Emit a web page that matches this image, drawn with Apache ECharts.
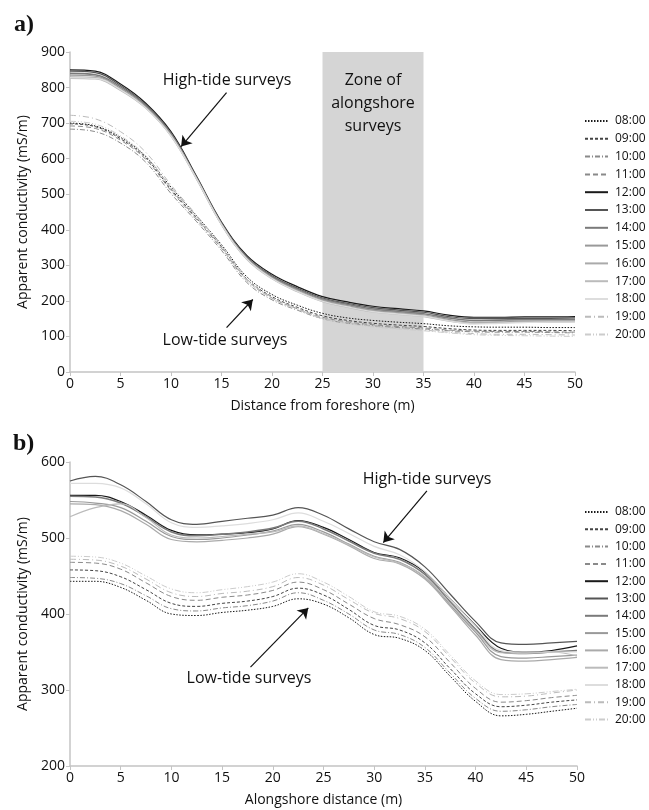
<!DOCTYPE html>
<html>
<head>
<meta charset="utf-8">
<script src="https://cdn.jsdelivr.net/npm/echarts@6/dist/echarts.min.js"></script>
<style>
html, body { margin: 0; padding: 0; background: #fff; }
#main { width: 649px; height: 810px; }
</style>
</head>
<body>
<div id="main"></div>
<script>
// times of the surveys
var times = ['08:00', '09:00', '10:00', '11:00', '12:00', '13:00', '14:00', '15:00', '16:00', '17:00', '18:00', '19:00', '20:00'];

// a) cross-shore profiles, distance from foreshore (m)
var distA = [0, 2.5, 5, 7.5, 10, 12.5, 15, 17.5, 20, 22.5, 25, 27.5, 30, 32.5, 35, 37.5, 40, 42.5, 45, 47.5, 50];
var a08 = [700, 692, 660, 606, 520, 440, 358, 268, 218, 188, 165, 152, 145, 140, 136, 130, 127, 126, 126, 125, 125];
var a09 = [698, 690, 656, 602, 514, 434, 352, 262, 212, 182, 158, 145, 137, 132, 128, 122, 118, 117, 117, 117, 116];
var a10 = [683, 676, 644, 590, 502, 424, 342, 252, 203, 174, 150, 137, 130, 125, 121, 116, 113, 112, 112, 111, 110];
var a11 = [692, 685, 652, 598, 510, 430, 348, 258, 208, 178, 154, 141, 133, 128, 124, 118, 115, 114, 114, 113, 112];
var a12 = [850, 846, 810, 756, 676, 552, 422, 328, 275, 240, 212, 197, 185, 178, 172, 160, 154, 154, 155, 155, 156];
var a13 = [846, 842, 806, 752, 672, 548, 418, 324, 271, 236, 208, 193, 181, 174, 168, 156, 150, 150, 151, 151, 152];
var a14 = [840, 836, 802, 750, 670, 548, 418, 322, 268, 233, 205, 190, 177, 170, 164, 152, 145, 146, 147, 147, 148];
var a15 = [835, 832, 798, 746, 667, 546, 416, 320, 266, 231, 203, 187, 174, 167, 161, 148, 140, 141, 143, 143, 144];
var a16 = [830, 828, 795, 744, 665, 545, 415, 318, 264, 228, 200, 184, 171, 164, 158, 145, 137, 139, 141, 141, 142];
var a17 = [826, 824, 792, 742, 663, 544, 414, 317, 262, 226, 198, 182, 169, 162, 156, 143, 136, 138, 140, 140, 141];
var a18 = [828, 826, 794, 743, 664, 545, 415, 318, 263, 227, 199, 183, 170, 163, 157, 144, 135, 137, 139, 140, 140];
var a19 = [722, 712, 676, 618, 526, 442, 354, 262, 210, 178, 152, 138, 129, 123, 118, 112, 108, 106, 106, 105, 104];
var a20 = [705, 697, 664, 608, 518, 436, 350, 258, 207, 176, 150, 136, 127, 121, 116, 110, 105, 103, 102, 101, 100];

// b) alongshore profiles, alongshore distance (m)
var distB = [0, 2.5, 5, 7.5, 10, 12.5, 15, 17.5, 20, 22.5, 25, 27.5, 30, 32.5, 35, 37.5, 40, 42.5, 45, 47.5, 50];
var b08 = [443, 443, 435, 418, 400, 398, 402, 405, 410, 420, 413, 395, 373, 368, 352, 318, 285, 266, 268, 272, 276];
var b09 = [458, 457, 449, 432, 414, 410, 414, 417, 423, 434, 425, 406, 385, 379, 362, 328, 295, 278, 280, 284, 287];
var b10 = [448, 447, 440, 424, 407, 404, 408, 411, 417, 428, 418, 400, 379, 373, 356, 322, 289, 272, 274, 278, 281];
var b11 = [468, 467, 459, 441, 423, 418, 422, 425, 431, 442, 432, 413, 394, 386, 370, 336, 302, 284, 286, 290, 293];
var b12 = [556, 556, 548, 530, 510, 504, 505, 507, 512, 523, 514, 498, 481, 474, 455, 420, 385, 355, 350, 352, 358];
var b13 = [575, 581, 570, 548, 524, 518, 522, 526, 530, 540, 530, 512, 495, 485, 462, 426, 390, 362, 360, 362, 364];
var b14 = [555, 554, 546, 528, 508, 503, 505, 508, 513, 522, 512, 496, 480, 472, 452, 416, 380, 350, 348, 350, 352];
var b15 = [548, 546, 540, 522, 502, 498, 500, 504, 509, 518, 508, 492, 476, 468, 448, 412, 376, 344, 342, 344, 346];
var b16 = [545, 544, 536, 518, 498, 495, 497, 500, 505, 515, 505, 490, 473, 466, 446, 410, 372, 340, 338, 340, 343];
var b17 = [528, 540, 545, 527, 504, 500, 502, 505, 508, 516, 506, 491, 475, 467, 449, 414, 378, 349, 348, 350, 345];
var b18 = [572, 572, 566, 545, 520, 514, 516, 519, 524, 533, 522, 506, 489, 478, 456, 420, 384, 352, 350, 350, 350];
var b19 = [472, 471, 463, 446, 428, 423, 427, 430, 436, 448, 438, 419, 401, 394, 377, 343, 309, 291, 292, 296, 300];
var b20 = [476, 475, 467, 450, 433, 428, 432, 436, 442, 453, 442, 423, 403, 397, 380, 346, 312, 294, 295, 298, 301];

var seriesA = [a08, a09, a10, a11, a12, a13, a14, a15, a16, a17, a18, a19, a20];
var seriesB = [b08, b09, b10, b11, b12, b13, b14, b15, b16, b17, b18, b19, b20];

// zone of alongshore surveys (m)
var zone = [25, 35];

// line look per survey time
var looks = [
	{ color: '#1a1a1a', type: [1.5, 1.5], width: 1 },
	{ color: '#444444', type: [3, 2], width: 1 },
	{ color: '#8a8a8a', type: [5, 2, 1, 2], width: 1 },
	{ color: '#8a8a8a', type: [5, 3], width: 1 },
	{ color: '#1a1a1a', type: 'solid', width: 1.2 },
	{ color: '#555555', type: 'solid', width: 1.2 },
	{ color: '#7a7a7a', type: 'solid', width: 1.6 },
	{ color: '#999999', type: 'solid', width: 1.2 },
	{ color: '#aaaaaa', type: 'solid', width: 1.2 },
	{ color: '#bbbbbb', type: 'solid', width: 1.2 },
	{ color: '#dddddd', type: 'solid', width: 1.2 },
	{ color: '#bbbbbb', type: [6, 3, 1, 3], width: 1 },
	{ color: '#cccccc', type: [6, 2, 1, 2, 1, 2], width: 1 }
];

function pairs(xs, ys) {
	var out = [];
	for (var i = 0; i < xs.length; i++) {
		out.push([xs[i], ys[i]]);
	}
	return out;
}

var font = '"Open Sans", "Noto Sans", sans-serif';
var axisGrey = '#c4c4c4';

function xAxisOf(grid, name) {
	return {
		type: 'value', gridIndex: grid, min: 0, max: 50, interval: 5,
		name: name, nameLocation: 'middle', nameGap: 27,
		nameTextStyle: { fontFamily: font, fontSize: 14, color: '#111' },
		axisLine: { show: true, lineStyle: { color: axisGrey, width: 1.5 } },
		axisTick: { show: true, length: 4, lineStyle: { color: axisGrey } },
		axisLabel: { fontFamily: font, fontSize: 14, color: '#111', margin: 5 },
		splitLine: { show: false }
	};
}

function yAxisOf(grid, min, max) {
	return {
		type: 'value', gridIndex: grid, min: min, max: max, interval: 100,
		name: 'Apparent conductivity (mS/m)', nameLocation: 'middle', nameGap: 40,
		nameTextStyle: { fontFamily: font, fontSize: 14, color: '#111' },
		axisLine: { show: true, lineStyle: { color: axisGrey, width: 1.5 } },
		axisTick: { show: true, length: 4, lineStyle: { color: axisGrey } },
		axisLabel: { fontFamily: font, fontSize: 14, color: '#111', margin: 5 },
		splitLine: { show: false }
	};
}

function legendOf(top, gap) {
	return {
		orient: 'vertical', left: 584, top: top, padding: 0,
		itemWidth: 23, itemHeight: 14, itemGap: gap,
		itemStyle: { opacity: 0 },
		textStyle: { fontFamily: font, fontSize: 12, color: '#111', padding: [0, 0, 0, 2] },
		data: times
	};
}

var series = [];
// grey band
series.push({
	type: 'line', xAxisIndex: 0, yAxisIndex: 0, data: [], z: 1, clip: false, silent: true,
	markArea: {
		silent: true,
		itemStyle: { color: '#d5d5d5' },
		data: [[{ xAxis: zone[0], yAxis: 0 }, { xAxis: zone[1], yAxis: 993 }]]
	}
});

for (var p = 0; p < 2; p++) {
	var sets = p === 0 ? seriesA : seriesB;
	var xs = p === 0 ? distA : distB;
	for (var i = 0; i < times.length; i++) {
		series.push({
			name: times[i], type: 'line', xAxisIndex: p, yAxisIndex: p,
			data: pairs(xs, sets[i]), smooth: 0.4, symbol: 'none', z: 3,
			color: looks[i].color,
			lineStyle: { color: looks[i].color, type: looks[i].type, width: looks[i].width }
		});
	}
}

// arrows pointing at the curves
var arrow = { color: '#111', width: 1.2, type: 'solid' };
series.push({
	type: 'line', xAxisIndex: 0, yAxisIndex: 0, data: [], z: 5, silent: true,
	markLine: {
		silent: true, symbol: ['none', 'arrow'], symbolSize: 10, label: { show: false },
		lineStyle: arrow, animation: false,
		data: [
			[{ coord: [15.5, 786] }, { coord: [11.0, 634] }],
			[{ coord: [15.5, 125] }, { coord: [18.1, 204] }]
		]
	}
});
series.push({
	type: 'line', xAxisIndex: 1, yAxisIndex: 1, data: [], z: 5, silent: true,
	markLine: {
		silent: true, symbol: ['none', 'arrow'], symbolSize: 10, label: { show: false },
		lineStyle: arrow, animation: false,
		data: [
			[{ coord: [35.2, 562] }, { coord: [30.9, 494] }],
			[{ coord: [17.8, 330] }, { coord: [23.5, 408] }]
		]
	}
});

function note(x, y, txt) {
	return {
		type: 'text', x: x, y: y, z: 10,
		style: { text: txt, align: 'center', verticalAlign: 'middle', fontFamily: font, fontSize: 16, lineHeight: 23, fill: '#111' }
	};
}

var option = {
	backgroundColor: '#fff',
	animation: false,
	grid: [
		{ left: 70, right: 74, top: 52, height: 320 },
		{ left: 70, right: 72, top: 462, height: 304 }
	],
	xAxis: [xAxisOf(0, 'Distance from foreshore (m)'), xAxisOf(1, 'Alongshore distance (m)')],
	yAxis: [yAxisOf(0, 0, 900), yAxisOf(1, 200, 600)],
	legend: [legendOf(115, 5.8), legendOf(506, 5.3)],
	graphic: [
		{ type: 'text', x: 14, y: 25, style: { text: 'a)', verticalAlign: 'middle', fontFamily: '"Liberation Serif", serif', fontWeight: 'bold', fontSize: 24, fill: '#111' } },
		{ type: 'text', x: 13, y: 444, style: { text: 'b)', verticalAlign: 'middle', fontFamily: '"Liberation Serif", serif', fontWeight: 'bold', fontSize: 24, fill: '#111' } },
		note(227, 80, 'High-tide surveys'),
		note(373, 103, 'Zone of\nalongshore\nsurveys'),
		note(225, 340, 'Low-tide surveys'),
		note(427, 479, 'High-tide surveys'),
		note(249, 678, 'Low-tide surveys')
	],
	series: series
};

var myChart = echarts.init(document.getElementById('main'));
myChart.setOption(option, true);
window.addEventListener('resize', function() {
	myChart.resize();
});
</script>
</body>
</html>
